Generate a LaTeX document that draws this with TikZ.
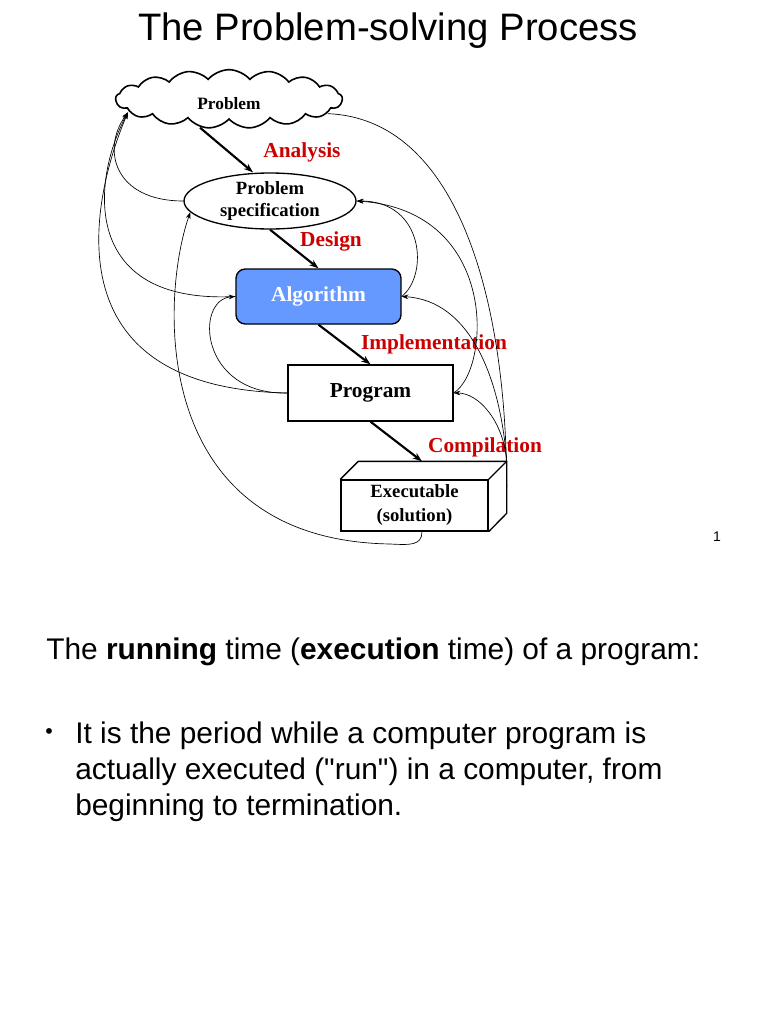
\documentclass[tikz,border=0pt]{standalone}
\usepackage{fontspec}
\setmainfont{Liberation Serif}
\setsansfont{Liberation Sans}[Ligatures=TeXOff]
\usetikzlibrary{arrows.meta,shapes.geometric,shapes.symbols}
\definecolor{redlab}{HTML}{CC0000}
\definecolor{algblue}{HTML}{6699FF}

\begin{document}
\begin{tikzpicture}[x=0.75pt,y=-0.75pt,
  stage/.style={draw,line width=1pt,align=center,inner sep=0pt,font=\bfseries\fontsize{14}{17}\selectfont},
  steplab/.style={text=redlab,font=\bfseries\fontsize{16}{19}\selectfont},
  mainarr/.style={line width=1.6pt,-{Stealth[length=7pt,width=5pt]}},
  back/.style={line width=0.5pt,-{Stealth[length=5pt,width=3.5pt]}},
  bodytext/.style={font=\sffamily\fontsize{22.4}{27}\selectfont,align=left,inner sep=0pt}]
\fill[white] (0,0) rectangle (768,1024);
\useasboundingbox (0,0) rectangle (768,1024);
\node[font=\sffamily\fontsize{28.7}{34}\selectfont] (title) at (388,31) {The Problem-solving Process};
\node[cloud,draw,line width=1.2pt,cloud puffs=17,cloud puff arc=100,aspect=3.6,minimum width=170pt,minimum height=44pt,inner sep=0pt,
  font=\bfseries\fontsize{13}{15}\selectfont] (prob) at (229,99) {\raisebox{-3.5pt}[9pt][0pt]{Problem}};
\coordinate (probin) at ([xshift=-75.75pt,yshift=-10pt]prob.center);
\coordinate (probout) at ([xshift=74pt,yshift=-11pt]prob.center);
\node[stage,ellipse,minimum width=129pt,minimum height=41pt] (spec) at (270,201) {Problem\\specification};
\node[stage,rounded corners=7pt,fill=algblue,text=white,minimum width=123.75pt,minimum height=41.25pt,
  font=\bfseries\fontsize{16}{19}\selectfont] (alg) at (318.5,296.5) {Algorithm};
\node[stage,minimum width=123.75pt,minimum height=42pt,font=\bfseries\fontsize{16}{19}\selectfont] (prog) at (370.5,393) {\raisebox{1pt}{Program}};
\node[stage,minimum width=110.25pt,minimum height=38.25pt,font=\bfseries\fontsize{14}{18}\selectfont] (exe) at (414.5,505.5) {Executable\\(solution)};
\coordinate (exeback) at ([xshift=13.5pt,yshift=13.5pt]exe.north east);
\coordinate (exeedge) at ([xshift=13.5pt,yshift=-6pt]exe.north east);
\draw[line width=1pt] (exe.north west) -- ++(18,-18) -- (exeback) -- ++(0,52) -- (exe.south east);
\draw[line width=1pt] (exeback) -- (exe.north east);
\node[steplab] (lana) at (302,152) {Analysis};
\node[steplab] (ldes) at (331,241) {Design};
\node[steplab] (limp) at (434,344) {Implementation};
\node[steplab] (lcom) at (485,447) {Compilation};
\draw[mainarr] ([xshift=-21.75pt,yshift=-21.5pt]prob.center) -- ([xshift=-12.75pt]spec.north);
\draw[mainarr] (spec.south) -- (alg.north);
\draw[mainarr] (alg.south) -- (prog.north);
\draw[mainarr] (prog.south) -- ([xshift=5.6pt,yshift=13.5pt]exe.north);
\draw[back] (spec.west) .. controls +(-69,0) and +(-27,37) .. (probin);
\draw[back] (alg.west) .. controls +(-156,8) and +(-36,67) .. (probin);
\draw[back] (prog.west) .. controls +(-250,-5) and +(-30,70) .. (probin);
\draw[back] (prog.west) .. controls +(-88,2) and +(-41,3) .. (alg.west);
\draw[back] ([xshift=5.6pt]exe.south) .. controls +(0,14) and +(20,1) .. (390,544) .. controls (150,540) and (160,300) .. (spec.188);
\draw[back] (alg.east) .. controls +(27,-21) and +(68,0) .. (spec.east);
\draw[back] (prog.east) .. controls +(37,-23) and +(143,10) .. (spec.east);
\draw[back] (exeback) .. controls +(-6,-82) and +(69,4) .. (alg.east);
\draw[back] (exeback) .. controls +(-3,-40) and +(25,0) .. (prog.east);
\draw[back,-] (exeedge) .. controls +(0,-188) and +(130,5) .. (probout);
\node[font=\sffamily\fontsize{10.5}{12}\selectfont] (pgno) at (717,537) {1};
\node[bodytext,anchor=base west] (run) at (46,659) {The \textbf{running} time (\textbf{execution} time) of a program:};
\node[font=\sffamily\fontsize{16}{19}\selectfont,anchor=base west,inner sep=0pt] (bul) at (45,738) {\textbullet};
\node[bodytext,anchor=base west] (def) at (75,815) {It is the period while a computer program is\\actually executed ("run") in a computer, from\\beginning to termination.};
\end{tikzpicture}
\end{document}
